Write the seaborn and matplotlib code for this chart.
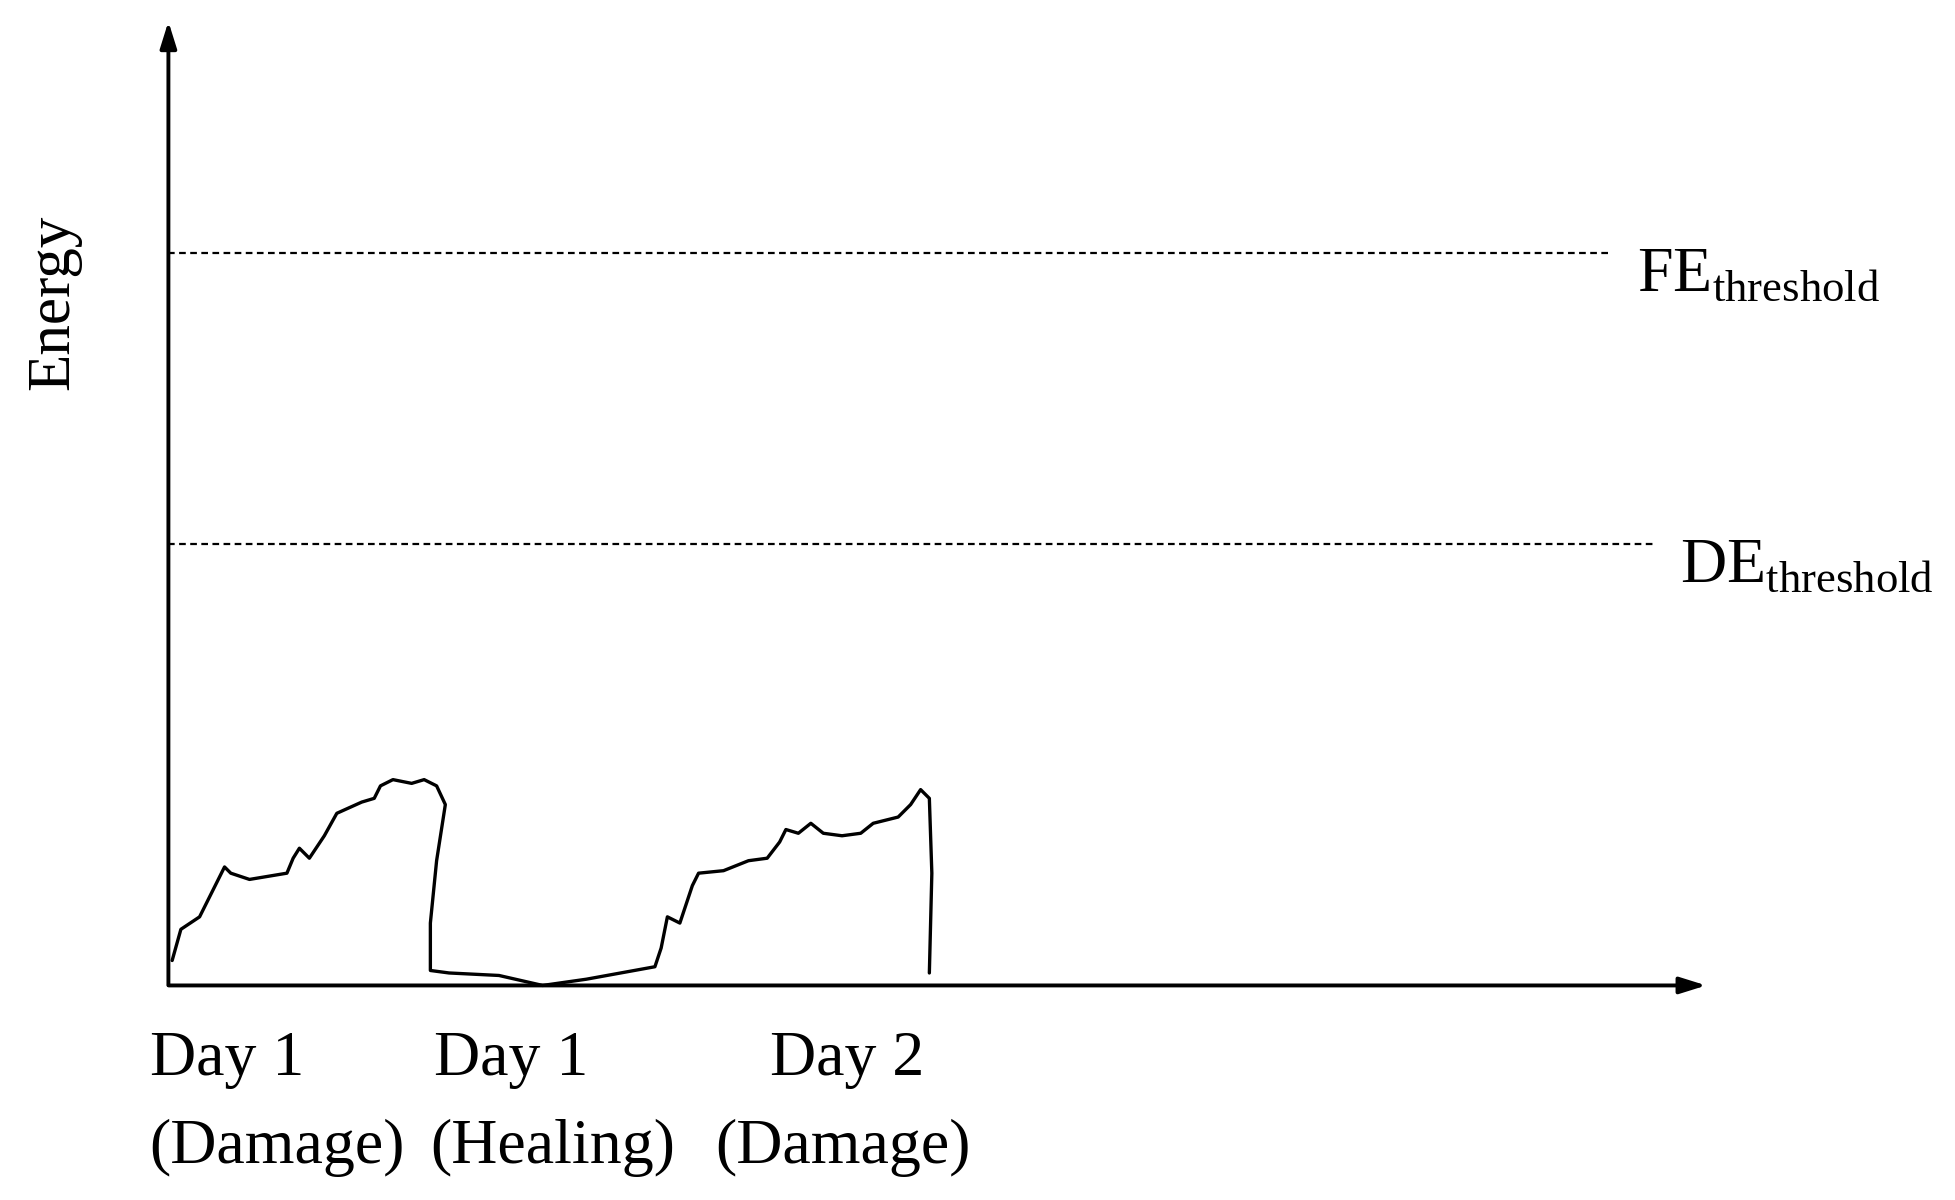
import matplotlib
matplotlib.use("Agg")
import matplotlib.pyplot as plt
import seaborn as sns
import pandas as pd

# energy curve (x: time units, y: energy units)
curve_x = [3, 10, 25, 35, 45, 50, 65, 95, 100, 105, 113, 125, 135, 155, 165, 170, 180, 195, 205, 215,
           222, 215, 210, 210, 225, 265, 300, 335, 390, 395, 400, 410, 420, 425, 445, 465, 480, 490,
           495, 505, 515, 525, 540, 555, 565, 585, 595, 603, 610, 612, 610]
curve_y = [20, 45, 55, 75, 95, 90, 85, 90, 102, 110, 102, 120, 138, 147, 150, 160, 165, 162, 165, 160,
           145, 100, 50, 12, 10, 8, 0, 5, 15, 30, 55, 50, 80, 90, 92, 100, 102, 115, 125, 122, 130,
           122, 120, 122, 130, 135, 145, 157, 150, 90, 10]
thresholds = {"FE": 587, "DE": 354}
threshold_ends = {"FE": 1155, "DE": 1190}
day_top = ["Day 1", "Day 1", "Day 2"]
day_bottom = ["(Damage)", "(Healing)", "(Damage)"]
top_pos = [-15, 213, 482]
bottom_pos = [-15, 210, 438]

sns.set_style("white")
plt.rcParams["font.family"] = ["Liberation Serif", "DejaVu Serif"]
plt.rcParams["mathtext.fontset"] = "custom"
plt.rcParams["mathtext.rm"] = "Liberation Serif"
plt.rcParams["text.color"] = "black"

fig = plt.figure(figsize=(19.56, 12), dpi=100)
ax = fig.add_axes([0, 0, 1, 1])
ax.set_xlim(-135, 1568 - 135)
ax.set_ylim(790 - 962, 790)
ax.axis("off")

df = pd.DataFrame({"t": curve_x, "e": curve_y})
sns.lineplot(data=df, x="t", y="e", sort=False, estimator=None, color="black", lw=2.4, ax=ax)

# axes with arrows
ax.annotate("", xy=(1235, 0), xytext=(-2, 0),
            arrowprops=dict(arrowstyle="-|>,head_length=1.6,head_width=0.5", color="black", lw=2.8))
ax.annotate("", xy=(0, 775), xytext=(0, -2),
            arrowprops=dict(arrowstyle="-|>,head_length=1.6,head_width=0.5", color="black", lw=2.8))

for name, yv in thresholds.items():
    ax.plot([0, threshold_ends[name]], [yv, yv], ls=(0, (3, 2)), color="black", lw=1.6)
    ax.text(threshold_ends[name] + 22, yv - 18, name + r"$_{\mathrm{threshold}}$",
            fontsize=46, va="center", ha="left")

ax.text(-92, 548, "Energy", fontsize=44, rotation=90, va="center", ha="center")

for lab, xp in zip(day_top, top_pos):
    ax.text(xp, -60, lab, fontsize=46, ha="left", va="center")
for lab, xp in zip(day_bottom, bottom_pos):
    ax.text(xp, -130, lab, fontsize=46, ha="left", va="center")

fig.savefig("out.png", dpi=100)
